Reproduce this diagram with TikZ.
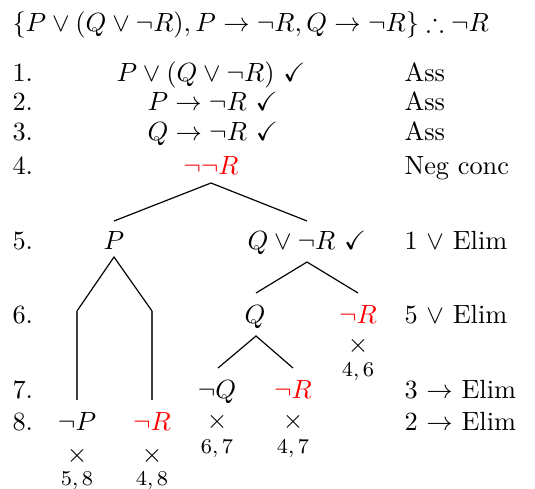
\documentclass[tikz,border=0pt]{standalone}
\usepackage{amssymb}
\usepackage{tikz}
\usetikzlibrary{calc}

\tikzset{
  fml/.style={anchor=base, inner sep=0pt},
  fmlw/.style={anchor=base west, inner sep=0pt},
  lnum/.style={anchor=base west, inner sep=0pt},
  rule/.style={anchor=base west, inner sep=0pt},
  closed/.style={anchor=center, inner sep=0pt},
  cref/.style={anchor=base, inner sep=0pt, font=\footnotesize},
  branch/.style={line width=0.45pt},
  stem/.style={line width=0.45pt, black!75},
}
\colorlet{negc}{red}

\begin{document}
\begin{tikzpicture}[x=0.38pt, y=-0.38pt]
\useasboundingbox (0,0) rectangle (535,488);

\node[fmlw] (arg) at (12,31) {$\{P\vee(Q\vee\neg R), P\to\neg R, Q\to\neg R\}\therefore\neg R$};

% line numbers
\node[lnum] (l1) at (12,81) {1.};
\node[lnum] (l2) at (12,110) {2.};
\node[lnum] (l3) at (12,140) {3.};
\node[lnum] (l4) at (12,174) {4.};
\node[lnum] (l5) at (12,249) {5.};
\node[lnum] (l6) at (12,323) {6.};
\node[lnum] (l7) at (12,398) {7.};
\node[lnum] (l8) at (12,430) {8.};

% trunk
\node[fmlw] (f1) at (116,81) {$P\vee(Q\vee\neg R)$ $\checkmark$};
\node[fmlw] (f2) at (147,110) {$P\to\neg R$ $\checkmark$};
\node[fmlw] (f3) at (147,140) {$Q\to\neg R$ $\checkmark$};
\node[fml, text=negc] (nnR) at (211,174) {$\neg\neg R$};

% first split
\node[fml] (P) at (114,249) {$P$};
\node[fmlw] (QR) at (247,249) {$Q\vee\neg R$ $\checkmark$};
\coordinate (s4) at (211,183);
\coordinate (s4l) at (114,221);
\coordinate (s4r) at (307,221);
\draw[branch] (s4l) -- (s4) -- (s4r);

% left branch
\coordinate (s5) at (114,257);
\coordinate (s5l) at (77,311);
\coordinate (s5r) at (152,311);
\node[fml] (nP) at (77,430) {$\neg P$};
\node[fml, text=negc] (nR8) at (152,430) {$\neg R$};
\draw[branch] (s5l) -- (s5) -- (s5r);
\draw[stem] (s5l) -- ($(nP.north)+(0,-12)$);
\draw[stem] (s5r) -- ($(nR8.north)+(0,-12)$);
\node[closed] (xP) at (77,456) {$\times$};
\node[cref] (cP) at (77,485) {$5,8$};
\node[closed] (xR8) at (152,456) {$\times$};
\node[cref] (cR8) at (152,485) {$4,8$};

% right branch
\coordinate (s5b) at (307,262);
\coordinate (s5bl) at (256,293);
\coordinate (s5br) at (358,293);
\draw[branch] (s5bl) -- (s5b) -- (s5br);
\node[fml] (Q) at (255,323) {$Q$};
\node[fml, text=negc] (nR6) at (358,323) {$\neg R$};
\node[closed] (xR6) at (358,346) {$\times$};
\node[cref] (cR6) at (358,376) {$4,6$};

% Q split
\coordinate (s6) at (256,336);
\coordinate (s6l) at (218,368);
\coordinate (s6r) at (293,368);
\draw[branch] (s6l) -- (s6) -- (s6r);
\node[fml] (nQ) at (217,398) {$\neg Q$};
\node[fml, text=negc] (nR7) at (293,398) {$\neg R$};
\node[closed] (xQ) at (217,422) {$\times$};
\node[cref] (cQ) at (217,453) {$6,7$};
\node[closed] (xR7) at (293,422) {$\times$};
\node[cref] (cR7) at (293,453) {$4,7$};

% justifications
\node[rule] (j1) at (404,81) {Ass};
\node[rule] (j2) at (404,110) {Ass};
\node[rule] (j3) at (404,140) {Ass};
\node[rule] (j4) at (404,174) {Neg conc};
\node[rule] (j5) at (404,249) {1 $\vee$ Elim};
\node[rule] (j6) at (404,323) {5 $\vee$ Elim};
\node[rule] (j7) at (404,398) {3 $\to$ Elim};
\node[rule] (j8) at (404,430) {2 $\to$ Elim};
\end{tikzpicture}
\end{document}
